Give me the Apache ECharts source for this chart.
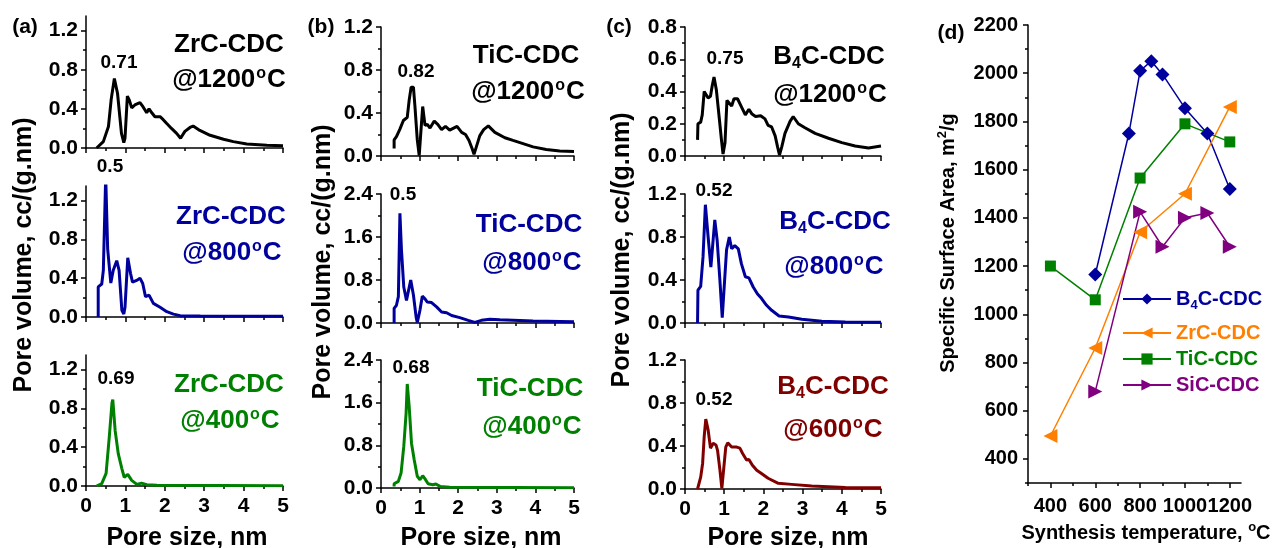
<!DOCTYPE html>
<html>
<head>
<meta charset="utf-8">
<script src="https://cdn.jsdelivr.net/npm/echarts@6/dist/echarts.min.js"></script>
<style>
html, body { margin: 0; padding: 0; background: #fff; }
#main { width: 1273px; height: 548px; }
</style>
</head>
<body>
<div id="main"></div>
<script>
// pore size distributions, [pore size nm, pore volume cc/(g.nm)]
var zrc1200 = [[0.27,0],[0.44,0.065],[0.57,0.22],[0.64,0.5],[0.72,0.71],[0.8,0.56],[0.9,0.15],[0.96,0.055],[0.99,0.1],[1.05,0.53],[1.1,0.49],[1.16,0.41],[1.24,0.44],[1.37,0.465],[1.45,0.42],[1.54,0.36],[1.6,0.40],[1.67,0.36],[1.75,0.32],[1.88,0.32],[1.96,0.29],[2.05,0.25],[2.17,0.2],[2.3,0.15],[2.4,0.1],[2.51,0.17],[2.64,0.21],[2.72,0.225],[2.89,0.18],[3.15,0.13],[3.49,0.09],[3.74,0.065],[4.08,0.04],[4.59,0.027],[5,0.024]];
var zrc800 = [[0.31,0],[0.31,0.31],[0.36,0.33],[0.4,0.34],[0.44,0.48],[0.5,1.45],[0.55,0.7],[0.63,0.35],[0.69,0.48],[0.78,0.58],[0.84,0.48],[0.91,0.07],[0.96,0.03],[0.99,0.1],[1.06,0.61],[1.13,0.45],[1.18,0.36],[1.3,0.38],[1.37,0.40],[1.44,0.345],[1.51,0.21],[1.6,0.225],[1.71,0.14],[1.88,0.10],[2.05,0.055],[2.22,0.03],[2.39,0.014],[2.9,0.01],[5,0.007]];
var zrc400 = [[0.27,0],[0.4,0.024],[0.51,0.13],[0.59,0.5],[0.66,0.86],[0.68,0.89],[0.74,0.57],[0.82,0.33],[0.91,0.18],[0.97,0.09],[1.06,0.12],[1.16,0.058],[1.29,0.017],[1.41,0.03],[1.54,0.014],[1.8,0.007],[5,0.003]];
var tic1200 = [[0.34,0.07],[0.34,0.15],[0.4,0.18],[0.49,0.25],[0.58,0.33],[0.68,0.36],[0.73,0.52],[0.78,0.64],[0.84,0.64],[0.88,0.46],[0.94,0.15],[0.99,0.005],[1.03,0.21],[1.08,0.46],[1.14,0.285],[1.2,0.295],[1.27,0.26],[1.38,0.325],[1.47,0.295],[1.57,0.245],[1.67,0.275],[1.78,0.24],[1.97,0.275],[2.09,0.22],[2.19,0.2],[2.28,0.145],[2.36,0.07],[2.41,0.015],[2.47,0.085],[2.56,0.19],[2.66,0.245],[2.78,0.28],[2.95,0.22],[3.21,0.17],[3.42,0.145],[3.64,0.12],[3.94,0.085],[4.28,0.06],[4.63,0.046],[5,0.043]];
var tic800 = [[0.34,0],[0.34,0.27],[0.4,0.33],[0.45,0.49],[0.49,2.04],[0.53,1.36],[0.59,0.67],[0.66,0.42],[0.77,0.8],[0.84,0.52],[0.91,0.11],[0.94,0.01],[1.01,0.24],[1.07,0.5],[1.14,0.45],[1.2,0.39],[1.31,0.38],[1.44,0.3],[1.57,0.205],[1.7,0.19],[1.83,0.14],[2.04,0.1],[2.26,0.05],[2.43,0.012],[2.6,0.05],[2.82,0.07],[3.08,0.062],[3.94,0.037],[5,0.025]];
var tic400 = [[0.34,0.03],[0.34,0.08],[0.45,0.125],[0.52,0.28],[0.59,0.78],[0.65,1.4],[0.68,1.95],[0.73,1.53],[0.79,0.84],[0.86,0.53],[0.94,0.22],[1.01,0.155],[1.08,0.23],[1.14,0.17],[1.22,0.08],[1.34,0.062],[1.42,0.075],[1.53,0.03],[1.78,0.012],[5,0.006]];
var b4c1200 = [[0.32,0.1],[0.33,0.2],[0.4,0.21],[0.44,0.255],[0.49,0.4],[0.53,0.41],[0.59,0.36],[0.65,0.37],[0.69,0.43],[0.74,0.49],[0.8,0.41],[0.87,0.245],[0.93,0.1],[0.97,0.012],[1.02,0.08],[1.07,0.345],[1.12,0.33],[1.19,0.31],[1.25,0.355],[1.34,0.355],[1.44,0.305],[1.54,0.255],[1.63,0.29],[1.71,0.26],[1.8,0.245],[1.93,0.25],[2.04,0.23],[2.12,0.19],[2.21,0.18],[2.3,0.125],[2.36,0.058],[2.41,0.006],[2.47,0.058],[2.55,0.14],[2.68,0.215],[2.76,0.245],[2.89,0.2],[3.06,0.175],[3.32,0.14],[3.66,0.11],[4.0,0.083],[4.34,0.062],[4.68,0.05],[5,0.062]];
var b4c800 = [[0.32,0],[0.33,0.305],[0.4,0.34],[0.46,0.615],[0.52,1.1],[0.59,0.8],[0.66,0.52],[0.7,0.52],[0.76,0.96],[0.82,0.77],[0.89,0.4],[0.95,0.05],[0.99,0.05],[1.06,0.68],[1.13,0.8],[1.19,0.69],[1.27,0.72],[1.36,0.69],[1.44,0.55],[1.54,0.43],[1.63,0.42],[1.74,0.335],[1.85,0.27],[1.95,0.23],[2.08,0.165],[2.21,0.118],[2.4,0.065],[2.64,0.056],[2.98,0.034],[3.49,0.016],[4.09,0.009],[5,0.006]];
var b4c600 = [[0.32,0],[0.4,0.11],[0.45,0.24],[0.49,0.49],[0.53,0.65],[0.59,0.55],[0.65,0.38],[0.72,0.425],[0.79,0.41],[0.83,0.36],[0.89,0.18],[0.94,0.005],[0.99,0.02],[1.04,0.39],[1.09,0.43],[1.19,0.39],[1.32,0.39],[1.4,0.38],[1.47,0.33],[1.57,0.27],[1.63,0.275],[1.72,0.22],[1.83,0.175],[1.95,0.145],[2.12,0.1],[2.38,0.053],[2.72,0.043],[3.23,0.028],[4.09,0.015],[5,0.012]];

// peak labels
var peaks = ['0.71', '0.5', '0.69', '0.82', '0.5', '0.68', '0.75', '0.52', '0.52'];

// y tick labels of the PSD panels (major / minor)
var ticksA = [0, 0.4, 0.8, 1.2], minorA = [0.2, 0.6, 1.0];
var ticksB = [0, 0.8, 1.6, 2.4], minorB = [0.4, 1.2, 2.0];
var ticksC = [0, 0.2, 0.4, 0.6, 0.8], minorC = [0.1, 0.3, 0.5, 0.7];

// (d) specific surface area vs synthesis temperature
var tempB4C = [600, 750, 800, 850, 900, 1000, 1100, 1200];
var areaB4C = [1165, 1750, 2010, 2050, 1995, 1855, 1750, 1520];
var tempZrC = [400, 600, 800, 1000, 1200];
var areaZrC = [495, 860, 1340, 1500, 1860];
var tempTiC = [400, 600, 800, 1000, 1200];
var areaTiC = [1200, 1060, 1565, 1790, 1715];
var tempSiC = [600, 800, 900, 1000, 1100, 1200];
var areaSiC = [680, 1425, 1280, 1400, 1420, 1280];
var dTempTicks = [400, 600, 800, 1000, 1200], dTempMinor = [300, 500, 700, 900, 1100];
var dAreaTicks = [400, 600, 800, 1000, 1200, 1400, 1600, 1800, 2000, 2200];
var dAreaMinor = [300, 500, 700, 900, 1100, 1300, 1500, 1700, 1900, 2100];

var FONT = "Arial, 'Liberation Sans', sans-serif";
var BLUE = '#00009c', GREEN = '#008000', WINE = '#800000';

var panels = [
    {left: 86,  top: 16,  h: 132, w: 197, data: zrc1200, color: '#000', max: 1.35, maj: ticksA, min: minorA, sample: 'ZrC-CDC', temp: '1200', last: false},
    {left: 86,  top: 186, h: 131, w: 197, data: zrc800,  color: BLUE,   max: 1.35, maj: ticksA, min: minorA, sample: 'ZrC-CDC', temp: '800',  last: false},
    {left: 86,  top: 355, h: 131, w: 197, data: zrc400,  color: GREEN,  max: 1.35, maj: ticksA, min: minorA, sample: 'ZrC-CDC', temp: '400',  last: true},
    {left: 381, top: 27,  h: 129, w: 193, data: tic1200, color: '#000', max: 1.2,  maj: ticksA, min: minorA, sample: 'TiC-CDC', temp: '1200', last: false},
    {left: 381, top: 194, h: 129, w: 193, data: tic800,  color: BLUE,   max: 2.4,  maj: ticksB, min: minorB, sample: 'TiC-CDC', temp: '800',  last: false},
    {left: 381, top: 360, h: 128, w: 193, data: tic400,  color: GREEN,  max: 2.4,  maj: ticksB, min: minorB, sample: 'TiC-CDC', temp: '400',  last: true},
    {left: 685, top: 27,  h: 129, w: 196, data: b4c1200, color: '#000', max: 0.8,  maj: ticksC, min: minorC, sample: 'B4C', temp: '1200', last: false},
    {left: 685, top: 194, h: 129, w: 196, data: b4c800,  color: BLUE,   max: 1.2,  maj: ticksA, min: minorA, sample: 'B4C', temp: '800',  last: false},
    {left: 685, top: 360, h: 129, w: 196, data: b4c600,  color: WINE,   max: 1.2,  maj: ticksA, min: minorA, sample: 'B4C', temp: '600',  last: true}
];
// label spots: sample line 1, line 2, peak label
var spots = [
    [229, 45, 229, 80, 119, 63],
    [231, 217, 232, 253, 110, 167],
    [229, 385, 230, 421, 116, 379],
    [526, 56, 528, 92, 416, 72],
    [529, 225, 532, 263, 403, 195],
    [530, 389, 532, 427, 411, 368],
    [829, 57, 830, 95, 725, 59],
    [835, 222, 834, 267, 714, 191],
    [833, 387, 833, 430, 714, 400]
];

var rich = {
    t: {fontSize: 26, fontWeight: 'bold', fontFamily: FONT, lineHeight: 29},
    s: {fontSize: 16, fontWeight: 'bold', fontFamily: FONT, lineHeight: 16, verticalAlign: 'top', padding: [0, 1, 0, 1]},
    b: {fontSize: 16, fontWeight: 'bold', fontFamily: FONT, lineHeight: 14, verticalAlign: 'bottom'}
};

function txt(x, y, text, size, color, rot) {
    return {
        type: 'text', x: x, y: y, rotation: rot || 0, z: 100,
        style: {text: text, font: 'bold ' + size + 'px ' + FONT, fill: color, align: 'center', verticalAlign: 'middle'}
    };
}
function richTxt(x, y, text, color) {
    return {
        type: 'text', x: x, y: y, z: 100,
        style: {text: text, fill: color, align: 'center', verticalAlign: 'middle', rich: rich}
    };
}
function plain(v) { return String(v); }

var line = {lineStyle: {color: '#000', width: 1.5}};
var tickStyle = {color: '#000', width: 1.5};
var labelFont = {color: '#000', fontSize: 21, fontWeight: 'bold', fontFamily: FONT};
var grids = [], xAxes = [], yAxes = [], series = [], graphic = [];

for (var i = 0; i < panels.length; i++) {
    var p = panels[i];
    grids.push({left: p.left, top: p.top, width: p.w, height: p.h, containLabel: false});
    xAxes.push({
        type: 'value', gridIndex: i, min: 0, max: 5, interval: 1, position: 'bottom',
        axisLine: line, splitLine: {show: false},
        axisTick: {length: 5, lineStyle: tickStyle},
        minorTick: {show: true, splitNumber: 2, length: 3, lineStyle: tickStyle},
        axisLabel: Object.assign({show: p.last, margin: 10, formatter: plain}, labelFont)
    });
    yAxes.push({
        type: 'value', gridIndex: i, min: 0, max: p.max, position: 'left',
        axisLine: line, splitLine: {show: false},
        axisTick: {length: 5, customValues: p.maj, lineStyle: tickStyle},
        axisLabel: Object.assign({
            customValues: p.maj, margin: 8,
            formatter: function (v) { return v.toFixed(1); }
        }, labelFont)
    });
    yAxes.push({
        type: 'value', gridIndex: i, min: 0, max: p.max, position: 'left',
        axisLine: {show: false}, splitLine: {show: false}, axisLabel: {show: false},
        axisTick: {length: 3, customValues: p.min, lineStyle: tickStyle}
    });
    series.push({
        type: 'line', xAxisIndex: i, yAxisIndex: 2 * i, data: p.data,
        showSymbol: false, lineStyle: {color: p.color, width: 3}, z: 3
    });

    var s = spots[i];
    var first = p.sample === 'B4C' ? '{t|B}{b|4}{t|C-CDC}' : '{t|' + p.sample + '}';
    graphic.push(richTxt(s[0], s[1], first, p.color));
    graphic.push(richTxt(s[2], s[3], '{t|@' + p.temp + '}{s|o}{t|C}', p.color));
    graphic.push(txt(s[4], s[5], peaks[i], 19, '#000'));
}

// (d)
var dIdx = panels.length;
var dFont = {color: '#000', fontSize: 20, fontWeight: 'bold', fontFamily: FONT};
grids.push({left: 1028, top: 25, width: 213, height: 458});
xAxes.push({
    type: 'value', gridIndex: dIdx, min: 300, max: 1250, position: 'bottom',
    axisLine: line, splitLine: {show: false},
    axisTick: {length: 5, customValues: dTempTicks, lineStyle: tickStyle},
    axisLabel: Object.assign({customValues: dTempTicks, margin: 13, hideOverlap: false, formatter: plain}, dFont)
});
xAxes.push({
    type: 'value', gridIndex: dIdx, min: 300, max: 1250, position: 'bottom',
    axisLine: {show: false}, splitLine: {show: false}, axisLabel: {show: false},
    axisTick: {length: 3, customValues: dTempMinor, lineStyle: tickStyle}
});
yAxes.push({
    type: 'value', gridIndex: dIdx, min: 300, max: 2200, position: 'left',
    axisLine: line, splitLine: {show: false},
    axisTick: {length: 5, customValues: dAreaTicks, lineStyle: tickStyle},
    axisLabel: Object.assign({customValues: dAreaTicks, margin: 10, formatter: plain}, dFont)
});
yAxes.push({
    type: 'value', gridIndex: dIdx, min: 300, max: 2200, position: 'left',
    axisLine: {show: false}, splitLine: {show: false}, axisLabel: {show: false},
    axisTick: {length: 3, customValues: dAreaMinor, lineStyle: tickStyle}
});

function pairs(xs, ys) {
    var out = [];
    for (var k = 0; k < xs.length; k++) out.push([xs[k], ys[k]]);
    return out;
}
var dSeries = [
    {name: 'B4C-CDC', data: pairs(tempB4C, areaB4C), color: BLUE, symbol: 'diamond', size: 14, rot: 0},
    {name: 'ZrC-CDC', data: pairs(tempZrC, areaZrC), color: '#ff8000', symbol: 'triangle', size: 14, rot: 90},
    {name: 'TiC-CDC', data: pairs(tempTiC, areaTiC), color: GREEN, symbol: 'rect', size: 11, rot: 0},
    {name: 'SiC-CDC', data: pairs(tempSiC, areaSiC), color: '#800080', symbol: 'triangle', size: 14, rot: -90}
];
var legends = [];
var legendTops = [286, 322, 348, 374];
for (var j = 0; j < dSeries.length; j++) {
    var d = dSeries[j];
    series.push({
        name: d.name, type: 'line', xAxisIndex: 9, yAxisIndex: 18, data: d.data,
        symbol: d.symbol, symbolSize: d.size, symbolRotate: d.rot,
        lineStyle: {color: d.color, width: 1.5}, itemStyle: {color: d.color}, z: 4
    });
    legends.push({
        data: [d.name], left: 1122, top: legendTops[j], padding: 0,
        itemWidth: 48, itemHeight: 14,
        formatter: function (n) { return n === 'B4C-CDC' ? '{t|B}{b|4}{t|C-CDC}' : n; },
        textStyle: {
            color: d.color, fontSize: 20, fontWeight: 'bold', fontFamily: FONT, lineHeight: 22,
            rich: {
                t: {color: d.color, fontSize: 20, fontWeight: 'bold', fontFamily: FONT, lineHeight: 26},
                b: {color: d.color, fontSize: 13, fontWeight: 'bold', fontFamily: FONT, lineHeight: 12, verticalAlign: 'bottom'}
            }
        }
    });
}

// panel letters and axis titles
graphic.push(txt(25, 27, '(a)', 21, '#000'));
graphic.push(txt(321, 27, '(b)', 21, '#000'));
graphic.push(txt(619, 27, '(c)', 21, '#000'));
graphic.push(txt(951, 33, '(d)', 21, '#000'));
graphic.push(txt(24, 255, 'Pore volume, cc/(g.nm)', 25, '#000', Math.PI / 2));
graphic.push(txt(323, 262, 'Pore volume, cc/(g.nm)', 25, '#000', Math.PI / 2));
graphic.push(txt(622, 250, 'Pore volume, cc/(g.nm)', 25, '#000', Math.PI / 2));
graphic.push(txt(187, 538, 'Pore size, nm', 25, '#000'));
graphic.push(txt(481, 538, 'Pore size, nm', 25, '#000'));
graphic.push(txt(788, 538, 'Pore size, nm', 25, '#000'));
var dRich = {
    n: {fontSize: 20, fontWeight: 'bold', fontFamily: FONT, lineHeight: 24},
    s: {fontSize: 13, fontWeight: 'bold', fontFamily: FONT, lineHeight: 14, verticalAlign: 'top'}
};
graphic.push({
    type: 'text', x: 948, y: 243, rotation: Math.PI / 2, z: 100,
    style: {text: '{n|Specific Surface Area, m}{s|2}{n|/g}', fill: '#000', align: 'center', verticalAlign: 'middle', rich: dRich}
});
graphic.push({
    type: 'text', x: 1146, y: 533, z: 100,
    style: {text: '{n|Synthesis temperature, }{s|o}{n|C}', fill: '#000', align: 'center', verticalAlign: 'middle', rich: dRich}
});

var myChart = echarts.init(document.getElementById('main'));
var option = {
    animation: false,
    backgroundColor: '#fff',
    grid: grids,
    xAxis: xAxes,
    yAxis: yAxes,
    legend: legends,
    series: series,
    graphic: graphic
};
myChart.setOption(option);
</script>
</body>
</html>
